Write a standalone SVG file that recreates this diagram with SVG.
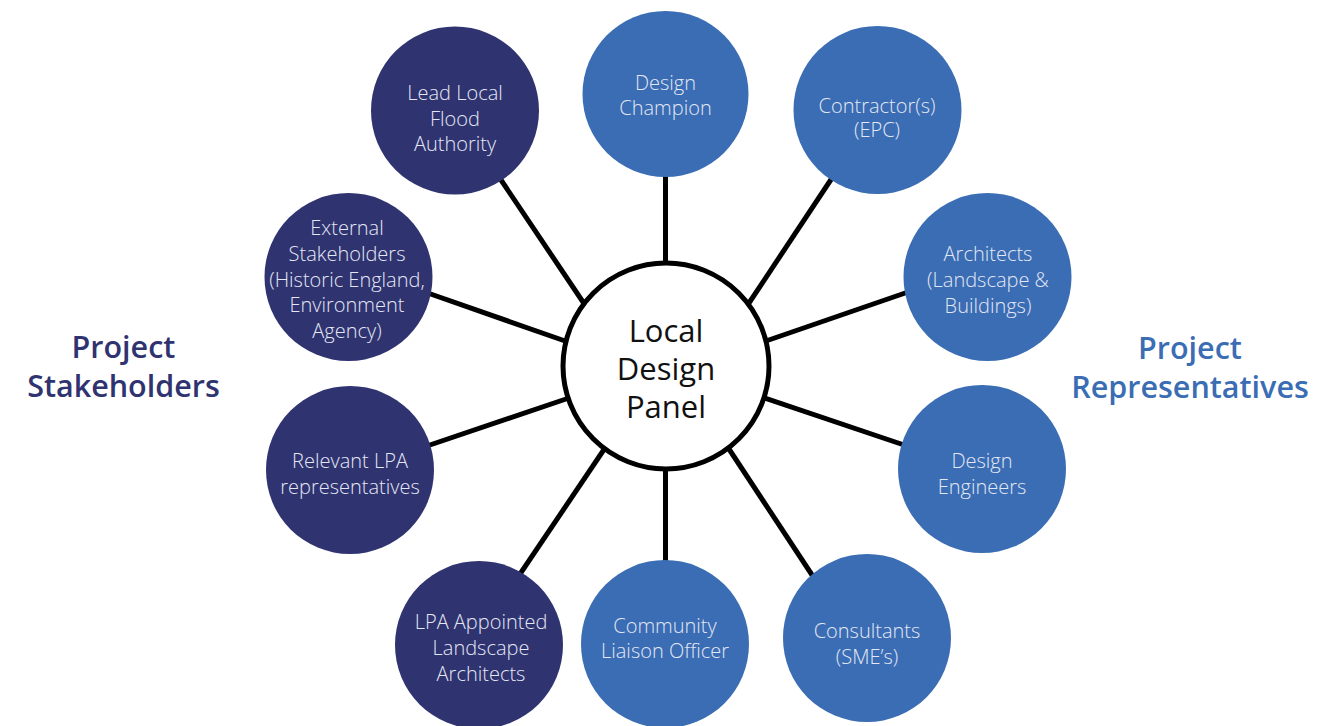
<svg xmlns="http://www.w3.org/2000/svg" width="1341" height="726" viewBox="0 0 1341 726">
  <style>
    .stake { fill: #2f3370; }
    .rep { fill: #3a6db3; }
    .lbl { font-family: "Open Sans", "Noto Sans", "Liberation Sans", sans-serif; font-size: 20px; font-weight: 300; fill: #e4e7f5; text-anchor: middle; }
    .hub { fill: #ffffff; stroke: #000000; stroke-width: 5; }
    .hubtxt { font-family: "Open Sans", "Noto Sans", "Liberation Sans", sans-serif; font-size: 31px; font-weight: 400; fill: #111111; text-anchor: middle; }
    .title { font-family: "Open Sans", "Noto Sans", "Liberation Sans", sans-serif; font-size: 30.5px; font-weight: 600; text-anchor: middle; }
    .link { stroke: #000000; stroke-width: 5; fill: none; }
  </style>
  <rect width="1341" height="726" fill="#ffffff"/>

  <!-- spokes from the panel to each participant -->
  <g id="connectors">
    <line class="link" x1="665.5" y1="170" x2="665.5" y2="270"/>
    <line class="link" x1="497" y1="174" x2="585" y2="305"/>
    <line class="link" x1="422" y1="291" x2="568" y2="342"/>
    <line class="link" x1="424" y1="447" x2="569" y2="398"/>
    <line class="link" x1="516" y1="580" x2="605" y2="448"/>
    <line class="link" x1="665.5" y1="465" x2="665.5" y2="568"/>
    <line class="link" x1="834" y1="175" x2="747" y2="306"/>
    <line class="link" x1="911" y1="291" x2="763" y2="342"/>
    <line class="link" x1="907" y1="446" x2="762" y2="397"/>
    <line class="link" x1="816" y1="581" x2="727" y2="446"/>
  </g>

  <g id="hub">
    <circle class="hub" cx="666" cy="366" r="103"/>
    <text class="hubtxt" x="666" y="342">Local</text>
    <text class="hubtxt" x="666" y="380">Design</text>
    <text class="hubtxt" x="666" y="418">Panel</text>
  </g>

  <!-- stakeholders (left, dark navy) -->
  <g id="lead-local-flood-authority">
    <circle class="stake" cx="455" cy="110.5" r="84"/>
    <text class="lbl" x="455" y="100">Lead Local</text>
    <text class="lbl" x="455" y="125.5">Flood</text>
    <text class="lbl" x="455" y="151">Authority</text>
  </g>
  <g id="external-stakeholders">
    <circle class="stake" cx="348.5" cy="277" r="84"/>
    <text class="lbl" x="347" y="235">External</text>
    <text class="lbl" x="347" y="261">Stakeholders</text>
    <text class="lbl" x="347" y="286.5">(Historic England,</text>
    <text class="lbl" x="347" y="312">Environment</text>
    <text class="lbl" x="347" y="337.5">Agency)</text>
  </g>
  <g id="relevant-lpa">
    <circle class="stake" cx="350" cy="470" r="84"/>
    <text class="lbl" x="350" y="467.5">Relevant LPA</text>
    <text class="lbl" x="350" y="493.5">representatives</text>
  </g>
  <g id="lpa-landscape-architects">
    <circle class="stake" cx="479" cy="645" r="84"/>
    <text class="lbl" x="481" y="629">LPA Appointed</text>
    <text class="lbl" x="481" y="655">Landscape</text>
    <text class="lbl" x="481" y="680.5">Architects</text>
  </g>

  <!-- representatives (right, blue) -->
  <g id="design-champion">
    <circle class="rep" cx="665.5" cy="94" r="83"/>
    <text class="lbl" x="665.5" y="90">Design</text>
    <text class="lbl" x="665.5" y="115">Champion</text>
  </g>
  <g id="contractors">
    <circle class="rep" cx="877.5" cy="110" r="84"/>
    <text class="lbl" x="877" y="112.5">Contractor(s)</text>
    <text class="lbl" x="877" y="137">(EPC)</text>
  </g>
  <g id="architects">
    <circle class="rep" cx="987.5" cy="277" r="84"/>
    <text class="lbl" x="988" y="261">Architects</text>
    <text class="lbl" x="988" y="286.5">(Landscape &amp;</text>
    <text class="lbl" x="988" y="312.5">Buildings)</text>
  </g>
  <g id="design-engineers">
    <circle class="rep" cx="982" cy="469" r="84"/>
    <text class="lbl" x="982" y="467.5">Design</text>
    <text class="lbl" x="982" y="493.5">Engineers</text>
  </g>
  <g id="consultants">
    <circle class="rep" cx="867" cy="638" r="84"/>
    <text class="lbl" x="867" y="637.5">Consultants</text>
    <text class="lbl" x="867" y="664">(SME’s)</text>
  </g>
  <g id="community-liaison-officer">
    <circle class="rep" cx="665" cy="644" r="84"/>
    <text class="lbl" x="665" y="632.5">Community</text>
    <text class="lbl" x="665" y="657.5">Liaison Officer</text>
  </g>

  <!-- side headings -->
  <g id="heading-stakeholders">
    <text class="title" x="123.5" y="358" fill="#2f3370">Project</text>
    <text class="title" x="123.5" y="397" fill="#2f3370">Stakeholders</text>
  </g>
  <g id="heading-representatives">
    <text class="title" x="1190" y="359" fill="#3a6db3">Project</text>
    <text class="title" x="1190" y="398" fill="#3a6db3">Representatives</text>
  </g>
</svg>
